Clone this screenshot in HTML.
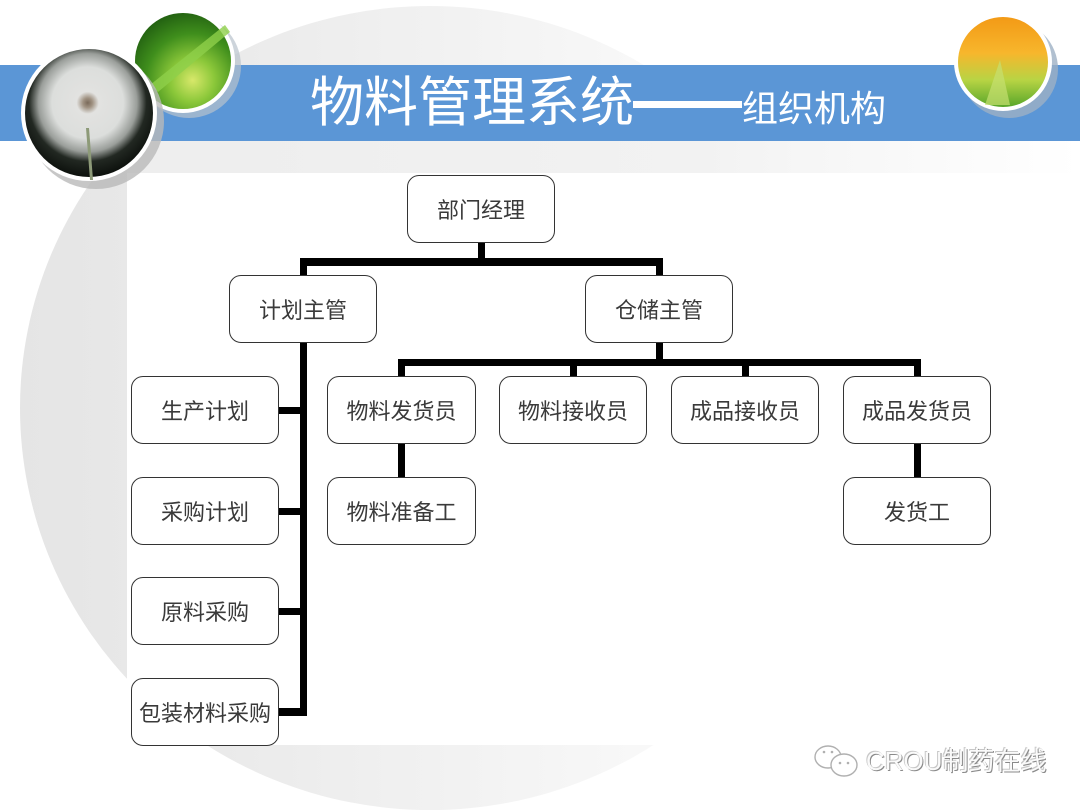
<!DOCTYPE html>
<html><head><meta charset="utf-8">
<style>
html,body{margin:0;padding:0;}
body{width:1080px;height:810px;position:relative;overflow:hidden;background:#fff;font-family:"Liberation Sans","Noto Sans CJK SC",sans-serif;}
.abs{position:absolute;}
.box{position:absolute;box-sizing:border-box;border:1.5px solid #333;border-radius:12px;background:#fff;display:flex;align-items:center;justify-content:center;font-size:22px;color:#3a3a3a;font-family:"Liberation Sans","Noto Sans CJK SC",sans-serif;white-space:nowrap;}
.ln{position:absolute;background:#000;}
.t{position:absolute;color:#fff;font-family:"Liberation Sans","Noto Sans CJK SC",sans-serif;white-space:nowrap;line-height:1;}
</style></head><body>
<svg class="abs" style="left:0;top:0" width="1080" height="810">
<defs>
<linearGradient id="g1" x1="0" y1="0" x2="1" y2="0">
<stop offset="0" stop-color="#e5e5e5"/>
<stop offset="0.2" stop-color="#e9e9e9"/>
<stop offset="0.65" stop-color="#f5f5f5"/>
<stop offset="1" stop-color="#ffffff"/>
</linearGradient>
<linearGradient id="g2" x1="0" y1="0" x2="1" y2="0">
<stop offset="0" stop-color="#eeeeee"/>
<stop offset="0.6" stop-color="#f1f1f1"/>
<stop offset="1" stop-color="#ffffff"/>
</linearGradient>
<radialGradient id="dand" cx="0.49" cy="0.42" r="0.62">
<stop offset="0" stop-color="#7a6a5a"/>
<stop offset="0.06" stop-color="#a09282"/>
<stop offset="0.14" stop-color="#e2e2e0"/>
<stop offset="0.45" stop-color="#dcdedc"/>
<stop offset="0.62" stop-color="#9a9e9a"/>
<stop offset="0.74" stop-color="#222822"/>
<stop offset="1" stop-color="#050805"/>
</radialGradient>
<radialGradient id="leaf" cx="0.6" cy="0.7" r="0.75">
<stop offset="0" stop-color="#d8e86a"/>
<stop offset="0.3" stop-color="#8cc83a"/>
<stop offset="0.65" stop-color="#3f8e1c"/>
<stop offset="1" stop-color="#1f5c10"/>
</radialGradient>
<linearGradient id="tulip" x1="0" y1="0" x2="0" y2="1">
<stop offset="0" stop-color="#f39a16"/>
<stop offset="0.4" stop-color="#f7b62c"/>
<stop offset="0.7" stop-color="#b8d444"/>
<stop offset="1" stop-color="#58a62a"/>
</linearGradient>
</defs>
<ellipse cx="430" cy="408" rx="410" ry="402" fill="url(#g1)"/>
<rect x="127" y="141" width="953" height="33" fill="url(#g2)" opacity="0.9"/>
<rect x="127" y="173" width="953" height="572" fill="#fff"/>
<rect x="0" y="65" width="1080" height="76" fill="#5b96d6"/>
<!-- leaf circle -->
<circle cx="189" cy="66" r="52" fill="#b8c2cc" opacity="0.7"/>
<circle cx="183" cy="61" r="52" fill="#fff"/>
<circle cx="183" cy="61" r="48" fill="url(#leaf)"/>
<path d="M150 85 L225 25 L230 32 L158 92 Z" fill="#8fd04a" opacity="0.8"/>
<!-- dandelion -->
<circle cx="96" cy="121" r="68" fill="#b9b9b9" opacity="0.8"/>
<circle cx="89" cy="113" r="68" fill="#fff"/>
<circle cx="89" cy="113" r="64" fill="url(#dand)"/>
<path d="M86 128 L90 180 L93 180 L89 128 Z" fill="#8d9a78"/>
<!-- tulip -->
<circle cx="1009" cy="69" r="49" fill="#9eb0c4" opacity="0.8"/>
<circle cx="1003" cy="62" r="49" fill="#fff"/>
<circle cx="1003" cy="62" r="45" fill="url(#tulip)"/>
<path d="M985 105 L1000 60 L1010 105 Z" fill="#c6e070" opacity="0.7"/>
<!-- wechat icon -->
<g fill="none" stroke="#b0b0b0" stroke-width="1.4">
<ellipse cx="828" cy="757" rx="13" ry="11"/>
<ellipse cx="844" cy="765" rx="13" ry="11" fill="#fff"/>
</g>
<g fill="#b0b0b0">
<circle cx="824" cy="752" r="1.3"/><circle cx="832" cy="752" r="1.3"/>
<circle cx="840" cy="763" r="1.3"/><circle cx="848" cy="763" r="1.3"/>
</g>
</svg>

<div class="t" style="left:310px;top:76px;font-size:54px;">物料管理系统</div>
<div class="abs" style="left:633px;top:101px;width:109px;height:7px;background:#fff;"></div>
<div class="t" style="left:742px;top:91px;font-size:36px;">组织机构</div>

<!-- connectors -->
<div class="ln" style="left:478px;top:242px;width:7px;height:22px;"></div>
<div class="ln" style="left:300px;top:258px;width:363px;height:8px;"></div>
<div class="ln" style="left:300px;top:258px;width:7px;height:18px;"></div>
<div class="ln" style="left:656px;top:258px;width:7px;height:18px;"></div>
<div class="ln" style="left:656px;top:342px;width:7px;height:22px;"></div>
<div class="ln" style="left:398px;top:359px;width:523px;height:7px;"></div>
<div class="ln" style="left:398px;top:359px;width:7px;height:18px;"></div>
<div class="ln" style="left:570px;top:359px;width:7px;height:18px;"></div>
<div class="ln" style="left:742px;top:359px;width:7px;height:18px;"></div>
<div class="ln" style="left:914px;top:359px;width:7px;height:18px;"></div>
<div class="ln" style="left:398px;top:443px;width:7px;height:35px;"></div>
<div class="ln" style="left:914px;top:443px;width:7px;height:35px;"></div>
<div class="ln" style="left:300px;top:342px;width:7px;height:374px;"></div>
<div class="ln" style="left:278px;top:407px;width:25px;height:7px;"></div>
<div class="ln" style="left:278px;top:508px;width:25px;height:7px;"></div>
<div class="ln" style="left:278px;top:608px;width:25px;height:7px;"></div>
<div class="ln" style="left:278px;top:708px;width:25px;height:8px;"></div>

<!-- boxes -->
<div class="box" style="left:407px;top:175px;width:148px;height:68px;">部门经理</div>
<div class="box" style="left:229px;top:275px;width:148px;height:68px;">计划主管</div>
<div class="box" style="left:585px;top:275px;width:148px;height:68px;">仓储主管</div>
<div class="box" style="left:131px;top:376px;width:148px;height:68px;">生产计划</div>
<div class="box" style="left:131px;top:477px;width:148px;height:68px;">采购计划</div>
<div class="box" style="left:131px;top:577px;width:148px;height:68px;">原料采购</div>
<div class="box" style="left:131px;top:678px;width:148px;height:68px;">包装材料采购</div>
<div class="box" style="left:327px;top:376px;width:149px;height:68px;">物料发货员</div>
<div class="box" style="left:499px;top:376px;width:148px;height:68px;">物料接收员</div>
<div class="box" style="left:671px;top:376px;width:148px;height:68px;">成品接收员</div>
<div class="box" style="left:843px;top:376px;width:148px;height:68px;">成品发货员</div>
<div class="box" style="left:327px;top:477px;width:149px;height:68px;">物料准备工</div>
<div class="box" style="left:843px;top:477px;width:148px;height:68px;">发货工</div>

<div class="abs" style="left:866px;top:748px;font-size:26px;line-height:1;color:#fafafa;text-shadow:1px 1px 0 #8a8a8a,-1px -1px 0 #c8c8c8;font-family:'Liberation Sans','Noto Sans CJK SC',sans-serif;white-space:nowrap;">CROU制药在线</div>
</body></html>
